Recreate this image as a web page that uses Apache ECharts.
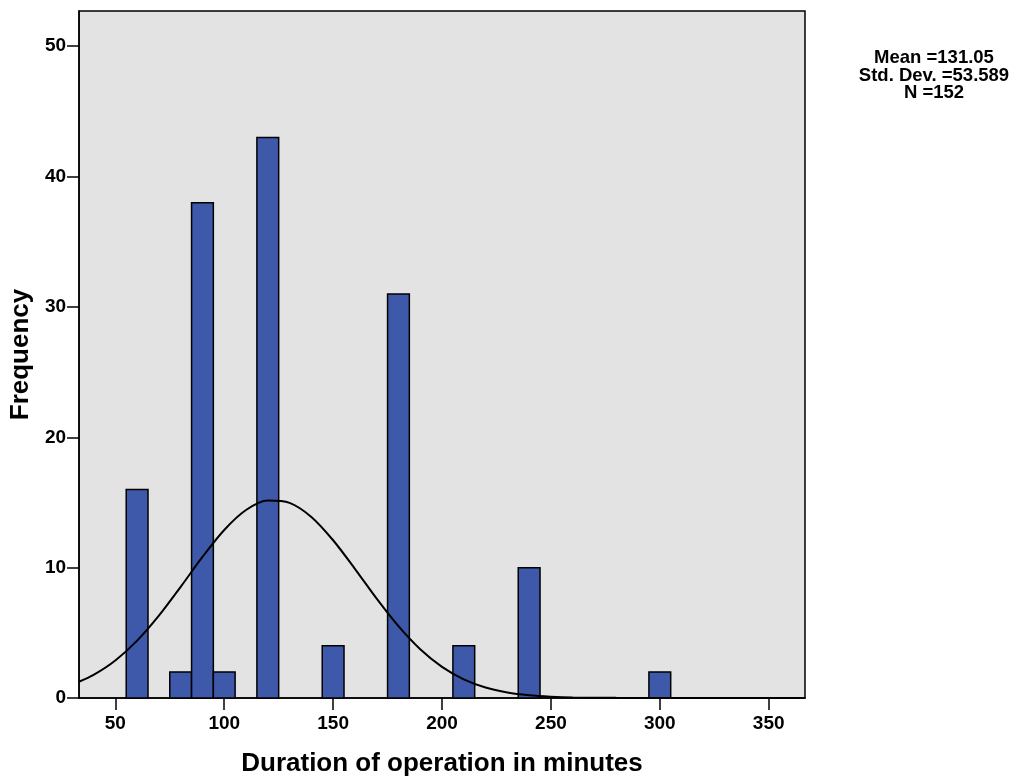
<!DOCTYPE html>
<html>
<head>
<meta charset="utf-8">
<script src="https://cdn.jsdelivr.net/npm/echarts@6/dist/echarts.min.js"></script>
<style>html,body{margin:0;padding:0;background:#fff}#c{width:1015px;height:783px}</style>
</head>
<body>
<div id="c"></div>
<script>
const binCenters = [60, 80, 90, 100, 120, 150, 180, 210, 240, 300];
const counts = [16, 2, 38, 2, 43, 4, 31, 4, 10, 2];
const binWidth = 10;
const curveX = [33.3, 40, 50, 60, 70, 80, 90, 100, 110, 120, 130, 140, 150, 160, 170, 180, 190, 200, 210, 220, 230, 240, 250, 260, 280, 300, 330, 366.7];
const curveY = [1.25, 1.77, 2.88, 4.40, 6.32, 8.53, 10.82, 12.89, 14.42, 15.15, 14.97, 13.89, 12.10, 9.91, 7.62, 5.51, 3.74, 2.39, 1.43, 0.80, 0.42, 0.21, 0.10, 0.04, 0.01, 0, 0, 0];
const xTicks = [50, 100, 150, 200, 250, 300, 350];
const yTicks = [0, 10, 20, 30, 40, 50];
const statLines = ['Mean =131.05', 'Std. Dev. =53.589', 'N =152'];
const xTitle = 'Duration of operation in minutes';
const yTitle = 'Frequency';

const chart = echarts.init(document.getElementById('c'), null, {renderer: 'canvas'});
const font = 'Arial, "Liberation Sans", sans-serif';
const option = {
  animation: false,
  backgroundColor: '#fff',
  grid: {left: 78, right: 210, top: 11, bottom: 85, show: true, backgroundColor: '#e3e3e3', borderColor: '#000', borderWidth: 1.5},
  xAxis: {
    type: 'value', min: 33.333, max: 366.667,
    axisLine: {show: true, onZero: false, lineStyle: {color: '#000', width: 1.5}},
    axisTick: {show: true, length: 12, customValues: xTicks, lineStyle: {color: '#000', width: 1.5}},
    axisLabel: {customValues: xTicks, color: '#000', fontSize: 19, fontWeight: 'bold', fontFamily: font, margin: 16},
    splitLine: {show: false},
    name: xTitle, nameLocation: 'middle', nameGap: 53,
    nameTextStyle: {color: '#000', fontSize: 26, fontWeight: 'bold', fontFamily: font}
  },
  yAxis: {
    type: 'value', min: 0, max: 52.7,
    axisLine: {show: true, lineStyle: {color: '#000', width: 1.5}},
    axisTick: {show: true, length: 12, customValues: yTicks, lineStyle: {color: '#000', width: 1.5}},
    axisLabel: {customValues: yTicks, color: '#000', fontSize: 19, fontWeight: 'bold', fontFamily: font, margin: 13},
    splitLine: {show: false},
    name: yTitle, nameLocation: 'middle', nameGap: 40, nameRotate: 90,
    nameTextStyle: {color: '#000', fontSize: 26, fontWeight: 'bold', fontFamily: font}
  },
  graphic: statLines.map((t, i) => ({
    type: 'text', x: 934, y: 58 + i * 17.5,
    style: {text: t, x: 0, y: 0, align: 'center', verticalAlign: 'middle', fill: '#000', font: 'bold 18.5px ' + font}
  })),
  series: [
    {
      type: 'custom',
      data: binCenters.map((c, i) => [c, counts[i]]),
      renderItem: function (params, api) {
        const c = api.value(0), v = api.value(1);
        const p0 = api.coord([c - binWidth / 2, v]);
        const p1 = api.coord([c + binWidth / 2, 0]);
        return {
          type: 'rect',
          shape: {x: p0[0], y: p0[1], width: p1[0] - p0[0], height: p1[1] - p0[1]},
          style: {fill: '#3e58aa', stroke: '#000', lineWidth: 1.5}
        };
      },
      z: 2
    },
    {
      type: 'line',
      data: curveX.map((x, i) => [x, curveY[i]]),
      smooth: 0.3, symbol: 'none',
      lineStyle: {color: '#000', width: 2},
      z: 3
    }
  ]
};
chart.setOption(option);
</script>
</body>
</html>
